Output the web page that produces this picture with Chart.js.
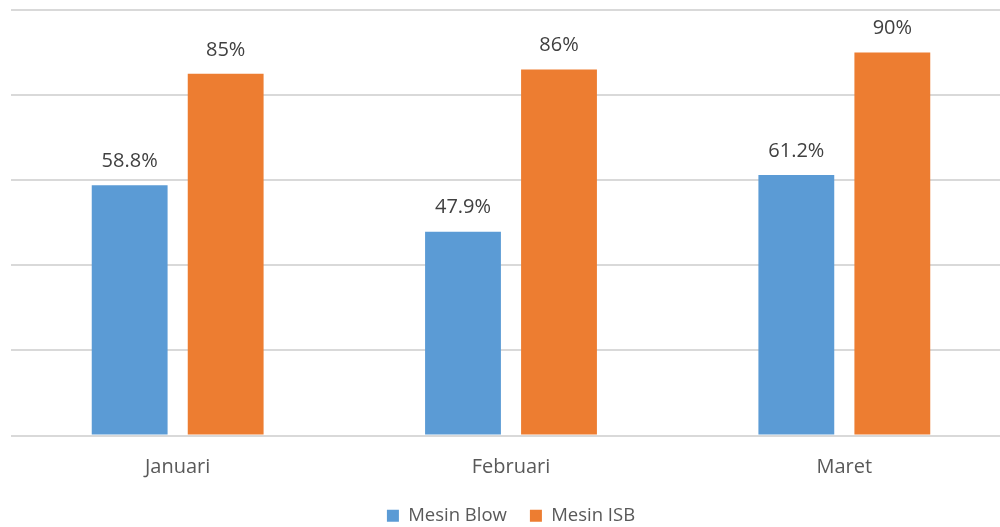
<!DOCTYPE html>
<html>
<head>
<meta charset="utf-8">
<script src="https://cdn.jsdelivr.net/npm/chart.js@4/dist/chart.umd.min.js"></script>
<style>
  html, body { margin: 0; padding: 0; background: #fff; overflow: hidden; width: 1000px; height: 527px; }
  #wrap { width: 1011px; height: 535px; }
</style>
</head>
<body>
<div id="wrap"><canvas id="barChart"></canvas></div>
<script>
// chart data
const months = ["Januari", "Februari", "Maret"];
const mesinBlow = [58.8, 47.9, 61.2];
const mesinISB = [85, 86, 90];
const seriesNames = ["Mesin Blow", "Mesin ISB"];
const textColor = "#595959";

// draws the value labels above each bar
const valueLabels = {
  id: "valueLabels",
  afterDatasetsDraw(chart) {
    const ctx = chart.ctx;
    ctx.save();
    ctx.font = "20px 'Open Sans'";
    ctx.fillStyle = "#404040";
    ctx.textAlign = "center";
    ctx.textBaseline = "middle";
    chart.data.datasets.forEach((ds, i) => {
      chart.getDatasetMeta(i).data.forEach((bar, j) => {
        ctx.fillText(ds.data[j] + "%", bar.x, bar.y - 24);
      });
    });
    ctx.restore();
  },
};

new Chart("barChart", {
  type: "bar",
  data: {
    labels: months,
    datasets: [
      {
        label: seriesNames[0],
        data: mesinBlow,
        backgroundColor: "#5B9BD5",
      },
      {
        label: seriesNames[1],
        data: mesinISB,
        backgroundColor: "#ED7D31",
      },
    ],
  },
  options: {
    responsive: true,
    maintainAspectRatio: false,
    animation: false,
    categoryPercentage: 0.576,
    barPercentage: 0.79,
    layout: { padding: { left: 11, right: 0, top: 10, bottom: 0 } },
    plugins: {
      tooltip: { enabled: false },
      legend: {
        position: "bottom",
        labels: {
          boxWidth: 12,
          boxHeight: 12,
          padding: 23,
          color: textColor,
          font: { family: "'Open Sans'", size: 18.5 },
        },
      },
    },
    scales: {
      x: {
        grid: { display: false },
        border: { display: false },
        afterFit(scale) {
          scale.height = 48;
        },
        ticks: {
          color: textColor,
          padding: 12,
          font: { family: "'Open Sans'", size: 20 },
        },
      },
      y: {
        min: 0,
        max: 100,
        ticks: { display: false, stepSize: 20 },
        grid: { color: "#D9D9D9", lineWidth: 2, drawTicks: false },
        border: { display: false },
      },
    },
  },
  plugins: [valueLabels],
});
</script>
</body>
</html>
